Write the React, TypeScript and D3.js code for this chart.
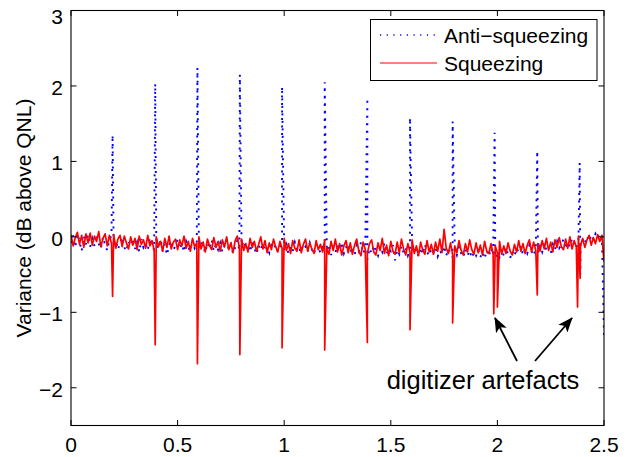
import React from "react";
import * as d3 from "d3";

// ---------- data ----------
const STEP = 0.01; // baseline sample spacing (x units)
const xTicks = [0, 0.5, 1, 1.5, 2, 2.5];
const xTickLabels = ["0", "0.5", "1", "1.5", "2", "2.5"];
const yTicks = [-2, -1, 0, 1, 2, 3];
const yTickLabels = ["\u22122", "\u22121", "0", "1", "2", "3"];

// squeezing baseline, samples at 0.00, 0.01, ... 2.50
const sqzBase = [
  0.03,-0.12,-0.01,0.06,-0.10,0.02,-0.14,0.04,-0.08,0.05,
  -0.11,0.01,-0.06,0.07,-0.13,-0.02,0.04,-0.12,0.02,-0.09,
  0.03,-0.15,-0.03,0.02,-0.13,0.01,-0.08,-0.16,0.00,-0.11,
  -0.02,-0.17,0.01,-0.10,-0.04,-0.15,0.02,-0.12,-0.05,-0.18,
  0.00,-0.13,-0.06,-0.19,-0.02,-0.14,0.01,-0.16,-0.07,-0.03,
  -0.17,-0.04,-0.12,0.01,-0.15,-0.06,-0.19,-0.02,-0.13,-0.08,
  0.00,-0.16,-0.07,-0.20,-0.03,-0.12,-0.17,-0.01,-0.14,-0.06,
  -0.19,-0.04,-0.13,0.00,-0.17,-0.08,-0.21,-0.05,0.01,-0.15,
  -0.03,-0.18,-0.09,-0.20,-0.02,-0.14,-0.06,-0.19,-0.10,0.00,
  -0.16,-0.05,-0.21,-0.08,-0.17,-0.03,-0.13,-0.20,-0.06,-0.15,
  -0.02,-0.18,-0.09,-0.22,-0.05,-0.15,-0.19,-0.04,-0.21,-0.10,
  -0.03,-0.19,-0.08,-0.16,-0.22,-0.05,-0.17,-0.10,-0.20,-0.04,
  -0.15,-0.23,-0.06,-0.18,-0.03,-0.20,-0.09,-0.24,-0.12,-0.05,
  -0.21,-0.08,-0.23,-0.11,-0.03,-0.19,-0.25,-0.07,-0.16,-0.22,
  -0.09,-0.04,-0.20,-0.24,-0.08,-0.18,-0.02,-0.22,-0.11,-0.25,
  -0.06,-0.19,-0.23,-0.07,-0.21,-0.03,-0.16,-0.24,-0.09,-0.20,
  -0.04,-0.22,-0.12,-0.25,-0.07,-0.18,-0.23,-0.05,-0.20,-0.10,
  -0.23,-0.07,-0.19,-0.03,-0.21,0.10,-0.15,-0.22,-0.08,-0.24,
  -0.12,-0.21,-0.05,-0.18,-0.24,-0.09,-0.20,-0.04,-0.17,-0.23,
  -0.08,-0.21,-0.11,-0.24,-0.06,-0.19,-0.22,-0.09,-0.23,-0.12,
  -0.21,-0.06,-0.23,-0.12,-0.22,-0.08,-0.19,-0.24,-0.10,-0.20,
  -0.05,-0.19,-0.09,-0.22,-0.11,-0.04,-0.20,-0.07,-0.18,-0.09,
  -0.19,-0.05,-0.16,-0.02,-0.18,-0.07,-0.20,-0.04,-0.14,-0.01,
  -0.13,-0.17,-0.03,-0.15,0.00,-0.16,-0.05,-0.13,0.01,-0.11,
  -0.02,-0.14,-0.04,0.02,-0.11,-0.01,-0.09,0.03,-0.06,0.02,
  -0.33,
];

// anti-squeezing baseline, samples at 0.00, 0.01, ... 2.50
const antiBase = [
  -0.08,0.02,-0.14,0.04,-0.06,-0.19,0.01,-0.10,0.03,-0.13,
  -0.02,-0.12,0.03,-0.09,-0.16,0.00,-0.11,-0.18,-0.04,0.02,
  -0.13,-0.05,-0.17,-0.08,0.00,-0.14,-0.19,-0.06,-0.12,-0.02,
  -0.16,-0.07,-0.20,-0.03,-0.14,-0.09,-0.18,-0.01,-0.12,-0.17,
  -0.07,-0.15,-0.03,-0.19,-0.10,-0.24,-0.11,-0.05,-0.17,-0.12,
  -0.03,-0.16,-0.09,-0.20,-0.06,-0.14,-0.19,-0.04,-0.15,-0.10,
  -0.18,-0.06,-0.13,-0.21,-0.08,-0.16,-0.04,-0.19,-0.10,-0.17,
  -0.08,-0.20,-0.12,-0.04,-0.17,-0.10,-0.22,-0.14,-0.05,-0.18,
  -0.12,-0.05,-0.17,-0.10,-0.20,-0.07,-0.15,-0.23,-0.11,-0.18,
  -0.09,-0.19,-0.13,-0.21,-0.06,-0.16,-0.11,-0.20,-0.14,-0.08,
  -0.18,-0.10,-0.22,-0.13,-0.19,-0.07,-0.15,-0.21,-0.11,-0.18,
  -0.13,-0.20,-0.08,-0.17,-0.23,-0.10,-0.15,-0.21,-0.12,-0.06,
  -0.19,-0.10,-0.24,-0.14,-0.21,-0.11,-0.17,-0.07,-0.22,-0.14,
  -0.09,-0.21,-0.13,-0.24,-0.11,-0.19,-0.07,-0.22,-0.16,-0.30,
  -0.15,-0.22,-0.11,-0.19,-0.25,-0.13,-0.20,-0.08,-0.23,-0.15,
  -0.19,-0.11,-0.31,-0.17,-0.23,-0.12,-0.21,-0.15,-0.25,-0.17,
  -0.12,-0.22,-0.16,-0.26,-0.14,-0.23,-0.10,-0.20,-0.25,-0.16,
  -0.21,-0.14,-0.26,-0.18,-0.23,-0.12,-0.25,-0.16,-0.21,-0.27,
  -0.15,-0.24,-0.13,-0.22,-0.27,-0.16,-0.25,-0.18,-0.28,-0.20,
  -0.25,-0.17,-0.27,-0.20,-0.29,-0.18,-0.26,-0.15,-0.24,-0.28,
  -0.21,-0.27,-0.16,-0.25,-0.14,-0.24,-0.28,-0.19,-0.26,-0.15,
  -0.20,-0.12,-0.24,-0.16,-0.22,-0.11,-0.19,-0.25,-0.14,-0.21,
  -0.12,-0.20,-0.08,-0.18,-0.13,-0.22,-0.10,-0.17,-0.06,-0.15,
  -0.10,-0.03,-0.16,-0.07,-0.13,-0.02,-0.10,-0.15,-0.05,-0.11,
  -0.03,-0.10,0.01,-0.06,0.03,-0.04,0.04,-0.02,0.05,0.01,
  -1.30,
];

// anti-squeezing peaks
const antiPeakX = [0.195, 0.395, 0.593, 0.792, 0.99, 1.19, 1.39, 1.59, 1.79, 1.987, 2.187, 2.386, 2.389];
const antiPeakY = [1.35, 2.03, 2.24, 2.15, 1.99, 2.05, 1.84, 1.58, 1.53, 1.38, 1.14, 0.98, -0.5];

// squeezing dips
const sqzDipX = [0.195, 0.395, 0.593, 0.792, 0.99, 1.19, 1.39, 1.59, 1.79, 1.983, 2.0, 2.187, 2.376, 2.388];
const sqzDipY = [-0.79, -1.43, -1.68, -1.56, -1.47, -1.5, -1.4, -1.23, -1.14, -1.02, -0.93, -0.77, -0.93, -0.55];

const legendLabels = ["Anti\u2212squeezing", "Squeezing"];
const annotation = "digitizer artefacts";

// ---------- layout ----------
const W = 631, H = 457;
const L = 71, R = 604, T = 10.5, B = 425.5;
const FONT = "'Liberation Sans', Arial, Helvetica, sans-serif";

const xScale = d3.scaleLinear().domain([0, 2.5]).range([L, R]);
const yScale = d3.scaleLinear().domain([-2.5, 3]).range([B, T]);

function buildSeries(base: number[], sx: number[], sy: number[]): [number, number][] {
  const pts: [number, number][] = base.map((v, i) => [i * STEP, v]);
  sx.forEach((x, i) => pts.push([x, sy[i]]));
  pts.sort((a, b) => a[0] - b[0]);
  return pts;
}

const antiSeries = buildSeries(antiBase, antiPeakX, antiPeakY);
const sqzSeries = buildSeries(sqzBase, sqzDipX, sqzDipY);

const line = d3
  .line<[number, number]>()
  .x((d) => xScale(d[0]))
  .y((d) => yScale(d[1]));

export default function App() {
  const tickLen = 5.5;
  return (
    <svg
      width={W}
      height={H}
      style={{ position: "absolute", left: 0, top: 0, background: "#fff" }}
      fontFamily={FONT}
    >
      <defs>
        <clipPath id="plotclip">
          <rect x={L} y={T} width={R - L} height={B - T} />
        </clipPath>
        <marker
          id="arrowhead"
          markerUnits="userSpaceOnUse"
          markerWidth={16}
          markerHeight={12}
          refX={14}
          refY={6}
          orient="auto"
        >
          <path d="M0,0 L15,6 L0,12 L3.5,6 Z" fill="#000" />
        </marker>
      </defs>
      <rect x={0} y={0} width={W} height={H} fill="#fff" />

      {/* data */}
      <g clipPath="url(#plotclip)">
        <path
          d={line(antiSeries) || ""}
          fill="none"
          stroke="#0000ff"
          strokeWidth={1.9}
          strokeDasharray="2 5.5"
        />
        <path d={line(sqzSeries) || ""} fill="none" stroke="#ff0000" strokeWidth={1.7} strokeLinejoin="round" />
      </g>

      {/* axes box */}
      <rect x={L} y={T} width={R - L} height={B - T} fill="none" stroke="#000" strokeWidth={1.1} />

      {/* x ticks */}
      {xTicks.map((t, i) => (
        <g key={"x" + i}>
          <line x1={xScale(t)} x2={xScale(t)} y1={B} y2={B - tickLen} stroke="#000" strokeWidth={1} />
          <line x1={xScale(t)} x2={xScale(t)} y1={T} y2={T + tickLen} stroke="#000" strokeWidth={1} />
          <text x={xScale(t)} y={452} fontSize={21} textAnchor="middle" fill="#000">
            {xTickLabels[i]}
          </text>
        </g>
      ))}

      {/* y ticks */}
      {yTicks.map((t, i) => (
        <g key={"y" + i}>
          <line x1={L} x2={L + tickLen} y1={yScale(t)} y2={yScale(t)} stroke="#000" strokeWidth={1} />
          <line x1={R} x2={R - tickLen} y1={yScale(t)} y2={yScale(t)} stroke="#000" strokeWidth={1} />
          <text
            x={63}
            y={Math.max(yScale(t), 15) + 9}
            fontSize={21}
            textAnchor="end"
            fill="#000"
          >
            {yTickLabels[i]}
          </text>
        </g>
      ))}

      {/* y label */}
      <text
        transform={`translate(31,${(T + B) / 2}) rotate(-90)`}
        fontSize={21}
        textAnchor="middle"
        fill="#000"
      >
        Variance (dB above QNL)
      </text>

      {/* legend */}
      <rect x={370.5} y={19.5} width={226.5} height={61} fill="#fff" stroke="#000" strokeWidth={1} />
      <line x1={380} x2={437} y1={35} y2={35} stroke="#0000ff" strokeWidth={1.5} strokeDasharray="1.2 5.5" />
      <line x1={380} x2={437} y1={63} y2={63} stroke="#ff0000" strokeWidth={1} />
      <text x={444} y={42.5} fontSize={21} fill="#000">
        {legendLabels[0]}
      </text>
      <text x={444} y={70.5} fontSize={21} fill="#000">
        {legendLabels[1]}
      </text>

      {/* annotation */}
      <text x={483} y={389} fontSize={25.5} textAnchor="middle" fill="#000">
        {annotation}
      </text>
      <line x1={517} y1={361} x2={495} y2={318} stroke="#000" strokeWidth={1.8} markerEnd="url(#arrowhead)" />
      <line x1={535} y1={361} x2={572} y2={318} stroke="#000" strokeWidth={1.8} markerEnd="url(#arrowhead)" />
    </svg>
  );
}
